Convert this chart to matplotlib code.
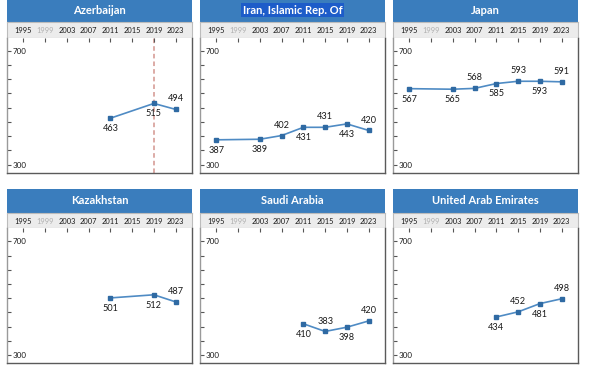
import matplotlib.pyplot as plt

plt.rcParams['font.family'] = ['Lato', 'DejaVu Sans']

years = [1995, 1999, 2003, 2007, 2011, 2015, 2019, 2023]
countries = ['Azerbaijan', 'Iran, Islamic Rep. Of', 'Japan',
             'Kazakhstan', 'Saudi Arabia', 'United Arab Emirates']

# scores per country (year -> score)
azerbaijan_years = [2011, 2019, 2023]
azerbaijan_scores = [463, 515, 494]
iran_years = [1995, 2003, 2007, 2011, 2015, 2019, 2023]
iran_scores = [387, 389, 402, 431, 431, 443, 420]
japan_years = [1995, 2003, 2007, 2011, 2015, 2019, 2023]
japan_scores = [567, 565, 568, 585, 593, 593, 591]
kazakhstan_years = [2011, 2019, 2023]
kazakhstan_scores = [501, 512, 487]
saudi_years = [2011, 2015, 2019, 2023]
saudi_scores = [410, 383, 398, 420]
uae_years = [2011, 2015, 2019, 2023]
uae_scores = [434, 452, 481, 498]

series = [(azerbaijan_years, azerbaijan_scores), (iran_years, iran_scores),
          (japan_years, japan_scores), (kazakhstan_years, kazakhstan_scores),
          (saudi_years, saudi_scores), (uae_years, uae_scores)]

# label above (+1) or below (-1) the point, by year
label_side = {1995: -1, 2003: -1, 2007: 1, 2011: -1, 2015: 1, 2019: -1, 2023: 1}

W, H = 602, 366
def px(x, y, w, h):
    return [x / W, 1 - (y + h) / H, w / W, h / H]

fig = plt.figure(figsize=(6.02, 3.66), dpi=100)

lefts = [7, 200, 393]
tops = [37.5, 228]
pw, ph = 185, 135
band_h, head_h = 15.5, 24

blue = '#3a7dbd'
line_c = '#4f8bc4'

for i, name in enumerate(countries):
    left = lefts[i % 3]
    top = tops[i // 3]

    # blue header
    hd = fig.add_axes(px(left, top - band_h - head_h, pw, head_h))
    hd.set_facecolor(blue)
    hd.set_xticks([]); hd.set_yticks([])
    for s in hd.spines.values():
        s.set_visible(False)
    if name.startswith('Iran'):
        hd.text(0.5, 0.5, name, color='white', fontsize=8, fontweight='bold',
                ha='center', va='center',
                bbox=dict(facecolor='#1d5cc9', edgecolor='none', pad=1.3))
    else:
        hd.text(0.5, 0.5, name, color='white', fontsize=8, fontweight='bold',
                ha='center', va='center')

    # gray band with the year labels
    bd = fig.add_axes(px(left, top - band_h, pw, band_h))
    bd.set_facecolor('#ececec')
    bd.set_xticks([]); bd.set_yticks([])
    for s in bd.spines.values():
        s.set_color('#bcbcbc')
        s.set_linewidth(0.8)

    ax = fig.add_axes(px(left, top, pw, ph))
    yrs, sc = series[i]
    ax.plot(yrs, sc, color=line_c, lw=1.2, marker='s', ms=2.6,
            mfc='#2f6aa3', mec='#2f6aa3', zorder=3)
    for x, y in zip(yrs, sc):
        side = label_side[x]
        ax.annotate(str(y), (x, y), xytext=(0, 7.5 * side), textcoords='offset points',
                    ha='center', va='center', fontsize=6.6, color='#1a1a1a')
    if name == 'Azerbaijan':
        ax.axvline(2019, color='#d3958e', lw=1.1, ls=(0, (3, 2)), zorder=1)

    ax.set_xlim(1992, 2026)
    ax.set_ylim(272, 747)

    ax.set_xticks(years)
    ax.set_xticklabels([str(y) for y in years])
    ax.xaxis.tick_top()
    ax.tick_params(axis='x', direction='in', length=3, width=0.8, color='#555555',
                   pad=2.2, labelsize=5.4, labelcolor='#1a1a1a')
    ax.get_xticklabels()[1].set_color('#b0b0b0')

    ax.set_yticks(range(300, 701, 50))
    ax.set_yticklabels(['300', '', '', '', '', '', '', '', '700'])
    ax.tick_params(axis='y', direction='in', length=3, width=0.8, color='#555555',
                   pad=-3.8, labelsize=5.8, labelcolor='#1a1a1a')
    for lab in ax.get_yticklabels():
        lab.set_ha('left')

    ax.spines['top'].set_visible(False)
    ax.spines['left'].set_color('#9a9a9a')
    ax.spines['right'].set_color('#5a5a5a')
    ax.spines['bottom'].set_color('#5a5a5a')
    for s in ax.spines.values():
        s.set_linewidth(1.0)

fig.savefig('out.png', dpi=100)
